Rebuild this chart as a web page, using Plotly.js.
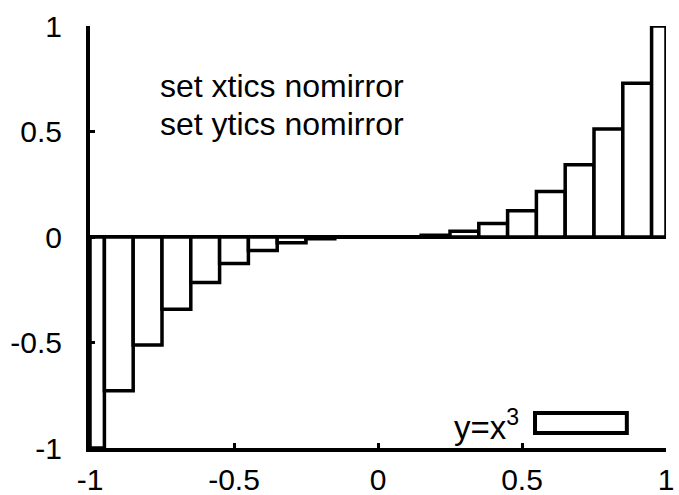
<!DOCTYPE html>
<html>
<head>
<meta charset="utf-8">
<script src="https://cdn.plot.ly/plotly-3.0.1.min.js"></script>
<style>html,body{margin:0;padding:0;background:#fff;}#chart{width:679px;height:495px;}</style>
</head>
<body>
<div id="chart"></div>
<script>
// sample points (x) and values y = x^3
var xValues = [-1, -0.9, -0.8, -0.7, -0.6, -0.5, -0.4, -0.3, -0.2, -0.1, 0, 0.1, 0.2, 0.3, 0.4, 0.5, 0.6, 0.7, 0.8, 0.9, 1];
var yValues = [-1, -0.729, -0.512, -0.343, -0.216, -0.125, -0.064, -0.027, -0.008, -0.001, 0, 0.001, 0.008, 0.027, 0.064, 0.125, 0.216, 0.343, 0.512, 0.729, 1];
var xTickVals = [-1, -0.5, 0, 0.5, 1];
var xTickText = ['-1', '-0.5', '0', '0.5', '1'];
var yTickVals = [-1, -0.5, 0, 0.5, 1];
var yTickText = ['-1', '-0.5', '0', '0.5', '1'];
var seriesName = 'y=x<sup>3</sup>';
var noteLines = ['set xtics nomirror', 'set ytics nomirror'];

var xMin = -1, xMax = 1, boxWidth = 0.1;
// boxes clipped to the x range (as gnuplot draws them)
var centers = [], widths = [];
xValues.forEach(function (x) {
  var l = Math.max(x - boxWidth / 2, xMin), r = Math.min(x + boxWidth / 2, xMax);
  centers.push((l + r) / 2); widths.push(r - l);
});

var FONT = 'Liberation Sans, Arial, sans-serif';
var trace = {
  type: 'bar', x: centers, y: yValues, width: widths,
  marker: {color: 'rgba(255,255,255,1)', line: {color: '#000', width: 3.5}},
  showlegend: false, hoverinfo: 'x+y'
};

var layout = {
  width: 679, height: 495,
  margin: {l: 90, r: 13, t: 26, b: 47},
  paper_bgcolor: '#fff', plot_bgcolor: 'rgba(0,0,0,0)',
  font: {family: FONT, size: 30, color: '#000'},
  showlegend: false,
  xaxis: {
    range: [xMin, xMax], tickvals: xTickVals, ticktext: xTickText,
    showgrid: false, zeroline: false, showline: true, linecolor: '#000', linewidth: 4,
    mirror: false, ticks: 'inside', ticklen: 5, tickwidth: 3, tickcolor: '#000',
    ticklabelstandoff: 2, tickfont: {family: FONT, size: 30, color: '#000'}
  },
  yaxis: {
    range: [-1, 1], tickvals: yTickVals, ticktext: yTickText,
    showgrid: false, zeroline: true, zerolinecolor: '#000', zerolinewidth: 3.5,
    showline: true, linecolor: '#000', linewidth: 4,
    mirror: false, ticks: 'inside', ticklen: 5, tickwidth: 3, tickcolor: '#000',
    ticklabelstandoff: 18, tickfont: {family: FONT, size: 30, color: '#000'}
  },
  bargap: 0,
  annotations: [
    {xref: 'x', yref: 'y', x: -0.765, y: 0.715, text: noteLines[0], showarrow: false,
     xanchor: 'left', yanchor: 'middle', font: {family: FONT, size: 32, color: '#000'}},
    {xref: 'x', yref: 'y', x: -0.765, y: 0.535, text: noteLines[1], showarrow: false,
     xanchor: 'left', yanchor: 'middle', font: {family: FONT, size: 32, color: '#000'}},
    {xref: 'paper', yref: 'paper', x: 0.748, y: 0.055, text: seriesName, showarrow: false,
     xanchor: 'right', yanchor: 'middle', font: {family: FONT, size: 33, color: '#000'}}
  ],
  shapes: [
    {type: 'rect', xref: 'paper', yref: 'paper', x0: 0.7726, x1: 0.932, y0: 0.0355, y1: 0.0829,
     line: {color: '#000', width: 4}, fillcolor: '#fff'}
  ]
};

Plotly.newPlot('chart', [trace], layout, {displayModeBar: false, staticPlot: true});
</script>
</body>
</html>
